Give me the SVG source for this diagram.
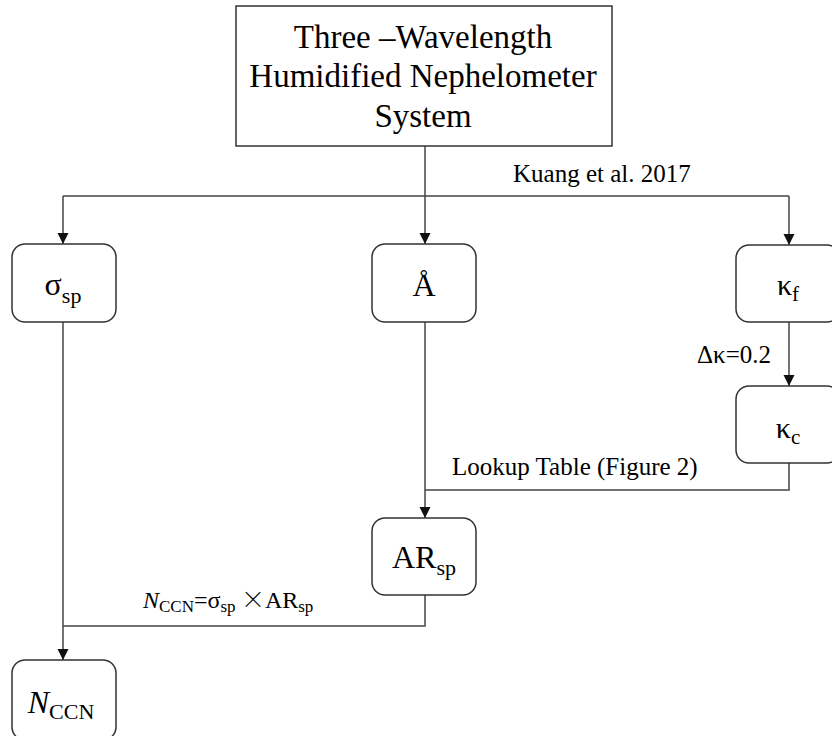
<svg xmlns="http://www.w3.org/2000/svg" width="832" height="736" viewBox="0 0 832 736">
<style>
text{font-family:"Liberation Serif","Times New Roman",serif;fill:#000}
.node{fill:#fff;stroke:#333;stroke-width:1.5}
.main{font-size:32px}
.lbl{font-size:25px}
.conn{fill:none;stroke:#444;stroke-width:1.5}
.head{fill:#111}
</style>
<rect width="832" height="736" fill="#fff"/>
<g id="connectors">
<path class="conn" d="M425,146 V196"/>
<path class="conn" d="M63,196 H789"/>
<line class="conn" x1="63" y1="196" x2="63" y2="244"/>
<path class="head" d="M57.5,233 L68.5,233 L63,244 z"/>
<line class="conn" x1="425" y1="196" x2="425" y2="244"/>
<path class="head" d="M419.5,233 L430.5,233 L425,244 z"/>
<line class="conn" x1="789" y1="196" x2="789" y2="245"/>
<path class="head" d="M783.5,234 L794.5,234 L789,245 z"/>
<line class="conn" x1="789" y1="322" x2="789" y2="386"/>
<path class="head" d="M783.5,375 L794.5,375 L789,386 z"/>
<path class="conn" d="M789,463 V490 H425"/>
<line class="conn" x1="425" y1="322" x2="425" y2="518"/>
<path class="head" d="M419.5,507 L430.5,507 L425,518 z"/>
<path class="conn" d="M425,595 V626 H63"/>
<line class="conn" x1="63" y1="322" x2="63" y2="660"/>
<path class="head" d="M57.5,649 L68.5,649 L63,660 z"/>
<text class="lbl" x="513" y="182">Kuang et al. 2017</text>
<text class="lbl" x="697" y="363">Δκ=0.2</text>
<text class="lbl" x="452" y="475">Lookup Table (Figure 2)</text>
<text x="143" y="608" font-size="24"><tspan font-style="italic">N</tspan><tspan font-size="17" dy="4">CCN</tspan><tspan dy="-4">=σ</tspan><tspan font-size="17" dy="4">sp</tspan><tspan dy="-4" font-family="Noto Sans CJK SC,sans-serif" font-weight="300"> ×</tspan><tspan>AR</tspan><tspan font-size="17" dy="4">sp</tspan></text>
</g>
<g id="top">
<rect x="236" y="6" width="376" height="140" fill="#fff" stroke="#333" stroke-width="1.5"/>
<text x="423" y="48" font-size="33" text-anchor="middle">Three –Wavelength</text>
<text x="423" y="87" font-size="33" text-anchor="middle">Humidified Nephelometer</text>
<text x="423" y="127" font-size="33" text-anchor="middle">System</text>
</g>
<g id="sigma">
<rect class="node" x="12" y="244" width="104" height="78" rx="13"/>
<text class="main" x="63" y="295" text-anchor="middle">σ<tspan font-size="22" dy="8">sp</tspan></text>
</g>
<g id="angstrom">
<rect class="node" x="372" y="244" width="104" height="78" rx="13"/>
<text class="main" x="424" y="296" text-anchor="middle">Å</text>
</g>
<g id="kappaf">
<rect class="node" x="736" y="245" width="104" height="77" rx="13"/>
<text x="788" y="295" font-size="30" text-anchor="middle">κ<tspan font-size="21" dy="6">f</tspan></text>
</g>
<g id="kappac">
<rect class="node" x="736" y="386" width="104" height="77" rx="13"/>
<text x="788" y="438" font-size="30" text-anchor="middle">κ<tspan font-size="21" dy="6">c</tspan></text>
</g>
<g id="arsp">
<rect class="node" x="372" y="518" width="104" height="77" rx="13"/>
<text class="main" x="424" y="568" text-anchor="middle">AR<tspan font-size="22" dy="7">sp</tspan></text>
</g>
<g id="nccn">
<rect class="node" x="12" y="660" width="104" height="80" rx="13"/>
<text class="main" x="61" y="713" text-anchor="middle"><tspan font-style="italic">N</tspan><tspan font-size="22" dy="6">CCN</tspan></text>
</g>
</svg>
